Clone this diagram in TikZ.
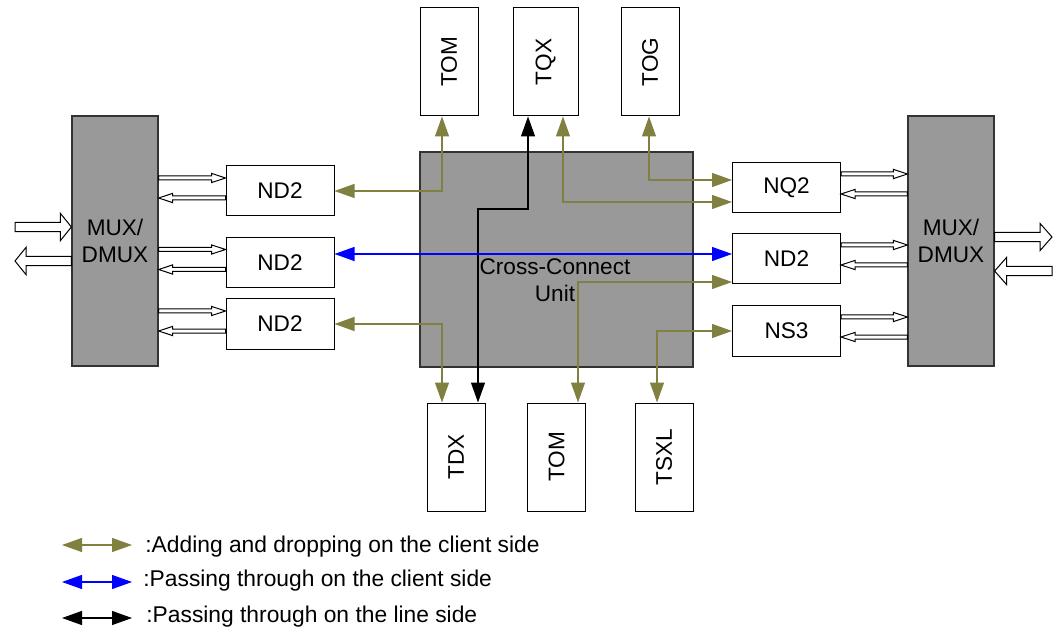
\documentclass[tikz,border=0pt]{standalone}
\usepackage{fontspec}
\setmainfont{Liberation Sans}
\definecolor{ccolive}{RGB}{128,128,64}
\definecolor{ccblue}{RGB}{0,0,255}
\definecolor{ccgray}{RGB}{153,153,153}
\usetikzlibrary{arrows.meta,positioning,calc}
% hollow block arrow: from, to, shaft half-width, head half-width, head length
\newcommand{\holarrow}[5]{%
  \draw[line width=0.5pt,fill=white] let \p1=(#1), \p2=(#2), \n1={ifthenelse(\x2>\x1,1,-1)} in
    (\x1,\y1+#3) -- (\x2-\n1*#5,\y1+#3) -- (\x2-\n1*#5,\y1+#4) -- (\x2,\y1)
    -- (\x2-\n1*#5,\y1-#4) -- (\x2-\n1*#5,\y1-#3) -- (\x1,\y1-#3) -- cycle;}

\begin{document}
\begin{tikzpicture}[x=0.5pt,y=-0.5pt,>={Triangle[length=10pt,width=7pt]},
  nbox/.style={draw,line width=0.5pt,fill=white,minimum width=54pt,minimum height=25pt,inner sep=0pt,font=\fontsize{11.3}{13.5}\selectfont},
  tbox/.style={draw,line width=0.5pt,fill=white,minimum width=29pt,minimum height=54pt,inner sep=0pt,font=\fontsize{11.3}{13.5}\selectfont},
  gbox/.style={draw=black!80,line width=0.6pt,fill=ccgray,inner sep=0pt,align=center,font=\fontsize{11.3}{13.5}\selectfont},
  addline/.style={<->,ccolive,line width=0.6pt},
  passline/.style={<->,ccblue,line width=0.6pt},
  thruline/.style={<->,black,line width=0.6pt},
  lgtext/.style={anchor=west,inner sep=0pt,font=\fontsize{11.4}{13.5}\selectfont}]
  \useasboundingbox (0,0) rectangle (1053,630);
  % MUX/DMUX units
  \node[gbox,minimum width=43pt,minimum height=125pt] (muxL) at (115,241) {MUX/\\DMUX};
  \node[gbox,minimum width=43pt,minimum height=125pt] (muxR) at (951,241) {MUX/\\DMUX};
  % Cross-connect unit
  \node[gbox,minimum width=136.5pt,minimum height=107.5pt] (ccu) at (556.5,259.5) {};
  \node[gbox,draw=none,fill=none] (ccutxt) at (555,280) {Cross-Connect\\Unit};
  % Line boards
  \node[nbox] (ndL1) at (280,191) {ND2};
  \node[nbox] (ndL2) at (280,262.5) {ND2};
  \node[nbox] (ndL3) at (280,324) {ND2};
  \node[nbox] (nq2) at (786.5,188) {NQ2};
  \node[nbox] (ndR) at (786.5,259) {ND2};
  \node[nbox] (ns3) at (786.5,331) {NS3};
  % Tributary boards
  \node[tbox] (tomT) at (449,62) {\rotatebox{90}{TOM}};
  \node[tbox,minimum width=32.5pt] (tqx) at (545.5,62) {\rotatebox{90}{TQX}};
  \node[tbox] (tog) at (650,62) {\rotatebox{90}{TOG}};
  \node[tbox] (tdx) at (456,457) {\rotatebox{90}{TDX}};
  \node[tbox] (tomB) at (556.5,457) {\rotatebox{90}{TOM}};
  \node[tbox] (tsxl) at (664,457) {\rotatebox{90}{TSXL}};
  % Hollow arrows between MUX and boards
  \foreach \b in {ndL1,ndL2,ndL3}{
    \holarrow{[yshift=6.5pt]\b.west -| muxL.east}{[yshift=6.5pt]\b.west}{1pt}{2.3pt}{7pt}
    \holarrow{[yshift=-3.5pt]\b.west}{[yshift=-3.5pt]\b.west -| muxL.east}{1pt}{2.3pt}{7pt}
  }
  \foreach \b in {nq2,ndR,ns3}{
    \holarrow{[yshift=7pt]\b.east}{[yshift=7pt]\b.east -| muxR.west}{1pt}{2.3pt}{7pt}
    \holarrow{[yshift=-3pt]\b.east -| muxR.west}{[yshift=-3pt]\b.east}{1pt}{2.3pt}{7pt}
  }
  % Line side
  \coordinate (inL) at (15,227);
  \coordinate (outL) at (15,261);
  \coordinate (outR) at (1052,237);
  \coordinate (inR) at (1052,271);
  \holarrow{inL}{inL -| muxL.west}{2.3pt}{6.8pt}{5.5pt}
  \holarrow{outL -| muxL.west}{outL}{2.3pt}{6.8pt}{5.5pt}
  \holarrow{outR -| muxR.east}{outR}{2.3pt}{6.8pt}{6pt}
  \holarrow{inR}{inR -| muxR.east}{2.3pt}{6.8pt}{6pt}
  % Cross-connections
  \coordinate (k1) at (478,209);
  \draw[addline] (ndL1.east) -| ([xshift=-3.5pt]tomT.south);
  \draw[thruline] ([xshift=-8.75pt]tqx.south) |- (k1) -- ([xshift=11pt]tdx.north);
  \draw[addline] ([xshift=8.75pt]tqx.south) |- ([yshift=-7pt]nq2.west);
  \draw[addline] ([xshift=-0.5pt]tog.south) |- ([yshift=4pt]nq2.west);
  \draw[passline] (ndL2.east |- 0,254) -- (ndR.west |- 0,254);
  \draw[addline] (ndL3.east) -| ([xshift=-7pt]tdx.north);
  \draw[addline] ([yshift=-11.5pt]ndR.west) -| ([xshift=10.75pt]tomB.north);
  \draw[addline] (ns3.west) -| ([xshift=-3.5pt]tsxl.north);
  % Legend
  \coordinate (lg1a) at (62,545); \coordinate (lg1b) at (132,545);
  \coordinate (lg2a) at (62,582); \coordinate (lg2b) at (132,582);
  \coordinate (lg3a) at (62,618); \coordinate (lg3b) at (132,618);
  \draw[addline] (lg1a) -- (lg1b);
  \draw[passline] (lg2a) -- (lg2b);
  \draw[thruline] (lg3a) -- (lg3b);
  \node[lgtext] (lg1t) at (145,547) {:Adding and dropping on the client side};
  \node[lgtext] (lg2t) at (143,581) {:Passing through on the client side};
  \node[lgtext] (lg3t) at (146,617) {:Passing through on the line side};
\end{tikzpicture}
\end{document}
